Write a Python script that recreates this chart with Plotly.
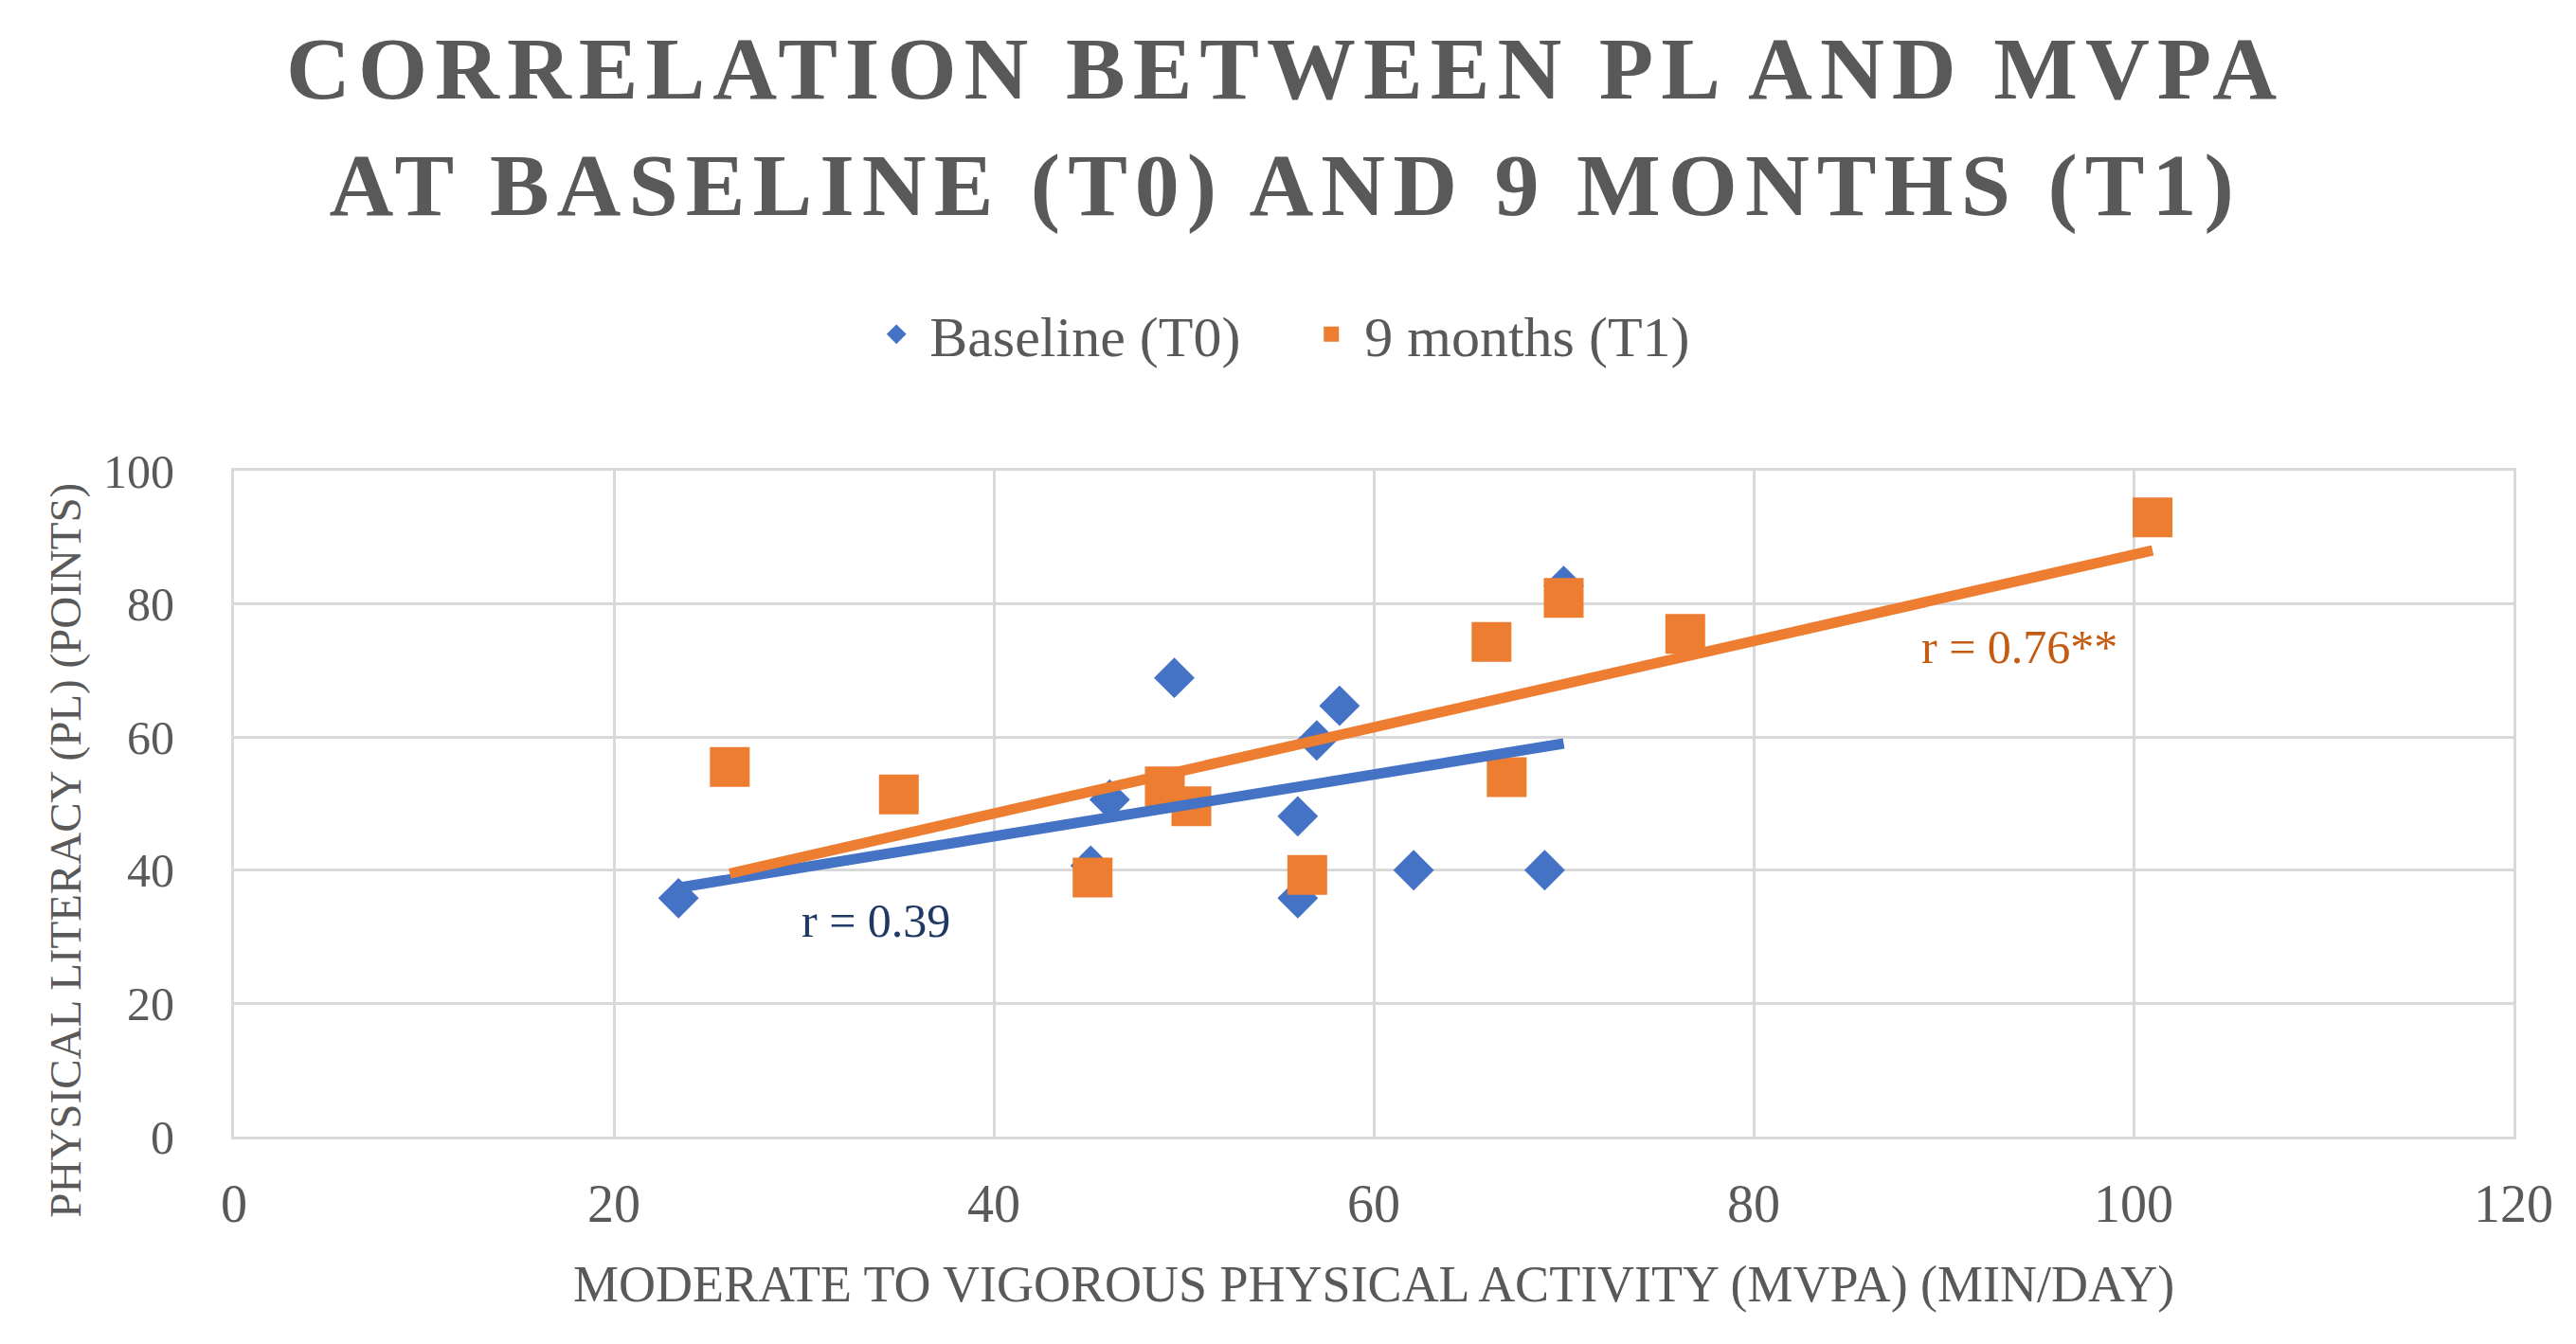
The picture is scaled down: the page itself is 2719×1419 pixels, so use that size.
import numpy as np
import plotly.graph_objects as go

# ===========================================================
# DATA
# ===========================================================
t0_mvpa = [23.4, 46.1, 49.5, 45.1, 56.0, 56.0, 57.0, 58.2, 62.1, 69.0, 70.0]
t0_pl = [35.8, 50.6, 68.9, 40.7, 48.1, 35.8, 59.5, 64.7, 40.0, 40.0, 82.7]

t1_mvpa = [26.1, 35.0, 45.2, 49.0, 50.4, 56.5, 66.2, 70.0, 67.0, 76.4, 101.0]
t1_pl = [55.5, 51.4, 38.9, 52.6, 49.6, 39.3, 74.3, 80.9, 54.0, 75.5, 93.0]

x_ticks = [0, 20, 40, 60, 80, 100, 120]
y_ticks = [0, 20, 40, 60, 80, 100]

BLUE = "#4472C4"
ORANGE = "#ED7D31"
GREY = "#595959"
GRID = "#D9D9D9"
FONT = "Liberation Serif"


def trend(x, y):
    """Least-squares line over the data range (like an Excel linear trendline)."""
    slope, icpt = np.polyfit(x, y, 1)
    xs = np.array([min(x), max(x)])
    return xs, slope * xs + icpt


fig = go.Figure()

# markers
fig.add_trace(go.Scatter(
    x=t0_mvpa, y=t0_pl, mode="markers", name="Baseline (T0)",
    marker=dict(symbol="diamond", size=33, color=BLUE),
))
fig.add_trace(go.Scatter(
    x=t1_mvpa, y=t1_pl, mode="markers", name="9 months (T1)",
    marker=dict(symbol="square", size=42, color=ORANGE),
))

# trendlines
tx0, ty0 = trend(t0_mvpa, t0_pl)
tx1, ty1 = trend(t1_mvpa, t1_pl)
fig.add_trace(go.Scatter(x=tx0, y=ty0, mode="lines", showlegend=False,
                         line=dict(color=BLUE, width=11), hoverinfo="skip"))
fig.add_trace(go.Scatter(x=tx1, y=ty1, mode="lines", showlegend=False,
                         line=dict(color=ORANGE, width=11), hoverinfo="skip"))

title_txt = ('<span style="letter-spacing:8px">CORRELATION BETWEEN PL AND MVPA</span><br>'
             '<span style="letter-spacing:8px">AT BASELINE (T0) AND 9 MONTHS (T1)</span>')

fig.update_layout(
    width=2719, height=1419,
    paper_bgcolor="white", plot_bgcolor="white",
    margin=dict(l=239, r=74, t=489, b=227),
    font=dict(family=FONT, color=GREY),
    title=dict(text=title_txt, x=0.496, xanchor="center", y=0.932, yanchor="top",
               font=dict(family=FONT, size=94, color=GREY, weight="bold")),
    legend=dict(orientation="h", xref="container", yref="container",
                x=0.501, xanchor="center", y=0.757, yanchor="middle",
                entrywidth=384, entrywidthmode="pixels", itemwidth=60,
                font=dict(family=FONT, size=60, color=GREY),
                itemsizing="trace", bgcolor="rgba(0,0,0,0)"),
    showlegend=True,
)

fig.update_xaxes(
    range=[0, 120], tickvals=x_ticks, showgrid=True, gridcolor=GRID, gridwidth=3,
    zeroline=False, showline=True, linecolor=GRID, linewidth=3, mirror=True,
    ticks="", ticklabelstandoff=20,
    tickfont=dict(family=FONT, size=56, color=GREY),
)
fig.update_yaxes(
    range=[0, 100], tickvals=y_ticks, showgrid=True, gridcolor=GRID, gridwidth=3,
    zeroline=False, showline=True, linecolor=GRID, linewidth=3, mirror=True,
    ticks="", ticklabelstandoff=50,
    tickfont=dict(family=FONT, size=50, color=GREY),
)

# axis titles
fig.add_annotation(text="MODERATE TO VIGOROUS PHYSICAL ACTIVITY (MVPA) (MIN/DAY)",
                   xref="paper", yref="paper", x=0.5, y=-0.222,
                   xanchor="center", yanchor="middle", showarrow=False,
                   font=dict(family=FONT, size=54, color=GREY))
fig.add_annotation(text="PHYSICAL LITERACY (PL) (POINTS)",
                   xref="paper", yref="paper", x=-0.074, y=0.43, textangle=-90,
                   xanchor="center", yanchor="middle", showarrow=False,
                   font=dict(family=FONT, size=47, color=GREY))

# correlation labels
fig.add_annotation(text="r = 0.39", x=33.8, y=32.5, showarrow=False,
                   xanchor="center", yanchor="middle",
                   font=dict(family=FONT, size=50, color="#203864"))
fig.add_annotation(text="r = 0.76**", x=94.0, y=73.5, showarrow=False,
                   xanchor="center", yanchor="middle",
                   font=dict(family=FONT, size=50, color="#C55A11"))

fig.write_html("out.html")
